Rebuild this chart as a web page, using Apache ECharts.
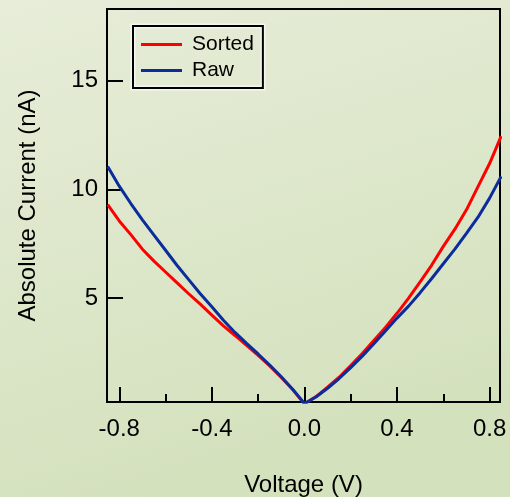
<!DOCTYPE html>
<html>
<head>
<meta charset="utf-8">
<script src="https://cdn.jsdelivr.net/npm/echarts@6/dist/echarts.min.js"></script>
<style>
html,body{margin:0;padding:0;}
#chart{width:510px;height:497px;}
</style>
</head>
<body>
<div id="chart"></div>
<script>
// ---- data ----
var voltage = [-0.85,-0.80,-0.75,-0.70,-0.65,-0.60,-0.55,-0.50,-0.45,-0.40,-0.35,-0.30,-0.25,-0.20,-0.15,-0.10,-0.05,0.00,
               0.05,0.10,0.15,0.20,0.25,0.30,0.35,0.40,0.45,0.50,0.55,0.60,0.65,0.70,0.75,0.80,0.85];
var sortedCurrent = [9.3,8.55,7.92,7.25,6.7,6.2,5.7,5.2,4.72,4.22,3.72,3.28,2.82,2.36,1.88,1.35,0.78,0.13,
                     0.47,0.9,1.36,1.9,2.45,3.05,3.65,4.3,5.0,5.75,6.52,7.38,8.17,9.06,10.13,11.19,12.45];
var rawCurrent = [11.05,10.15,9.35,8.6,7.9,7.2,6.5,5.85,5.2,4.6,3.98,3.42,2.92,2.43,1.92,1.38,0.8,0.15,
                  0.45,0.85,1.3,1.8,2.33,2.9,3.49,4.08,4.63,5.25,5.9,6.58,7.25,7.98,8.72,9.6,10.6];
var xMajorTicks = [-0.8,-0.4,0.0,0.4,0.8];
var xMinorTicks = [-0.6,-0.2,0.2,0.6];
var yMajorTicks = [5,10,15];
var seriesNames = ['Sorted','Raw'];

function pairs(xs, ys){ return xs.map(function(x,i){ return [x, ys[i]]; }); }

var FONT = '"Liberation Sans", Arial, sans-serif';
var chart = echarts.init(document.getElementById('chart'), null, {renderer:'canvas'});
var xMin = -0.853, xMax = 0.845, yMin = 0.22, yMax = 18.3;

var option = {
  animation: false,
  backgroundColor: {
    type: 'linear', x: 0, y: 0, x2: 0.3, y2: 1,
    colorStops: [{offset: 0, color: '#e7edd9'}, {offset: 1, color: '#d4e1bd'}]
  },
  graphic: [{
    type: 'rect', z: 0,
    shape: {x: 133, y: 26, width: 130, height: 62},
    style: {fill: 'none', stroke: '#f4f8ec', lineWidth: 5}
  }],
  grid: {
    left: 107, right: 10, top: 9, bottom: 95,
    containLabel: false, outerBoundsMode: 'none',
    show: true, borderColor: '#000', borderWidth: 2, backgroundColor: 'transparent'
  },
  legend: {
    data: seriesNames,
    orient: 'vertical',
    left: 133, top: 26,
    padding: [8, 9, 7, 8],
    itemGap: 5,
    itemWidth: 41, itemHeight: 3,
    icon: 'rect',
    borderColor: '#000', borderWidth: 2,
    backgroundColor: 'transparent',
    textStyle: {fontFamily: FONT, fontSize: 21, color: '#000', lineHeight: 21, padding: [0,0,0,5]},
    selectedMode: false
  },
  xAxis: [{
    type: 'value', min: xMin, max: xMax, position: 'bottom',
    name: 'Voltage (V)', nameLocation: 'middle', nameGap: 71,
    nameTextStyle: {fontFamily: FONT, fontSize: 24, color: '#000'},
    axisLine: {show: true, onZero: false, lineStyle: {color: '#000', width: 2}},
    axisTick: {show: true, inside: true, length: 15, lineStyle: {color: '#000', width: 2}, customValues: xMajorTicks},
    axisLabel: {show: true, fontFamily: FONT, fontSize: 24, color: '#000', margin: 15, customValues: xMajorTicks,
                formatter: function(v){ return v.toFixed(1); }},
    splitLine: {show: false}
  }, {
    type: 'value', min: xMin, max: xMax, position: 'bottom',
    axisLine: {show: false, onZero: false},
    axisTick: {show: true, inside: true, length: 8, lineStyle: {color: '#000', width: 2}, customValues: xMinorTicks},
    axisLabel: {show: false},
    splitLine: {show: false}
  }],
  yAxis: [{
    type: 'value', min: yMin, max: yMax, position: 'left',
    name: 'Absolute Current (nA)', nameLocation: 'middle', nameGap: 67,
    nameTextStyle: {fontFamily: FONT, fontSize: 24, color: '#000'},
    axisLine: {show: true, onZero: false, lineStyle: {color: '#000', width: 2}},
    axisTick: {show: true, inside: true, length: 16, lineStyle: {color: '#000', width: 2}, customValues: yMajorTicks},
    axisLabel: {show: true, fontFamily: FONT, fontSize: 24, color: '#000', margin: 9, customValues: yMajorTicks},
    splitLine: {show: false}
  }],
  series: [{
    name: seriesNames[0], type: 'line', xAxisIndex: 0, yAxisIndex: 0,
    data: pairs(voltage, sortedCurrent),
    symbol: 'none', smooth: false, color: '#ff0000',
    lineStyle: {color: '#ff0000', width: 3}, z: 3
  }, {
    name: seriesNames[1], type: 'line', xAxisIndex: 0, yAxisIndex: 0,
    data: pairs(voltage, rawCurrent),
    symbol: 'none', smooth: false, color: '#0b2c9c',
    lineStyle: {color: '#0b2c9c', width: 3}, z: 4
  }]
};
chart.setOption(option);
</script>
</body>
</html>
